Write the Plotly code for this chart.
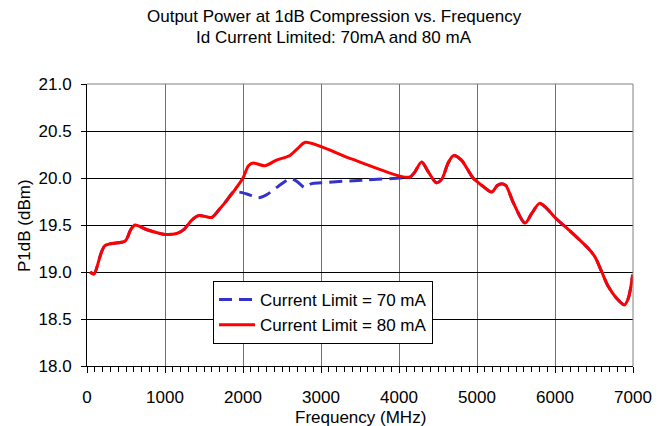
import plotly.graph_objects as go

# Shared low-frequency segment (both current limits)
freq_low = [40, 90, 230, 490, 560, 615, 770, 1000, 1150, 1240, 1340, 1430, 1520, 1600, 1700, 1790]
p1db_low = [19.00, 18.98, 19.28, 19.33, 19.45, 19.50, 19.45, 19.40, 19.41, 19.45, 19.55, 19.60, 19.59, 19.58, 19.67, 19.76]

# Mid segment, 70 mA
freq_mid_70 = [1876, 1950, 2050, 2200, 2300, 2450, 2600, 2680, 2790, 2880, 3000, 3600, 4010, 4140]
p1db_mid_70 = [19.85, 19.85, 19.83, 19.79, 19.82, 19.91, 19.99, 19.97, 19.90, 19.94, 19.95, 19.98, 20.00, 20.01]

# Mid segment, 80 mA
freq_mid_80 = [1900, 2000, 2070, 2130, 2280, 2430, 2600, 2710, 2800, 3400, 4010, 4140]
p1db_mid_80 = [19.88, 20.00, 20.13, 20.16, 20.13, 20.19, 20.24, 20.32, 20.38, 20.20, 20.02, 20.01]

# Shared high-frequency segment
freq_high = [4200, 4290, 4380, 4480, 4550, 4630, 4700, 4800, 4950, 5080, 5190, 5260, 5320, 5370,
             5470, 5615, 5700, 5800, 5890, 6000, 6240, 6450, 6520, 6600, 6680, 6790, 6890, 6940, 6996]
p1db_high = [20.06, 20.17, 20.06, 19.95, 19.99, 20.16, 20.24, 20.19, 20.00, 19.91, 19.85, 19.92, 19.94, 19.92,
             19.73, 19.52, 19.62, 19.73, 19.68, 19.58, 19.40, 19.23, 19.15, 19.00, 18.85, 18.72, 18.65, 18.72, 18.97]

names = ["Current Limit = 70 mA", "Current Limit = 80 mA"]
title_lines = ["Output Power at 1dB Compression vs. Frequency", "Id Current Limited: 70mA and 80 mA"]
x_ticks = [0, 1000, 2000, 3000, 4000, 5000, 6000, 7000]
y_ticks = [18.0, 18.5, 19.0, 19.5, 20.0, 20.5, 21.0]

freq_70 = freq_low + freq_mid_70 + freq_high
p1db_70 = p1db_low + p1db_mid_70 + p1db_high
freq_80 = freq_low + freq_mid_80 + freq_high
p1db_80 = p1db_low + p1db_mid_80 + p1db_high

FONT = "Arial, Liberation Sans, sans-serif"
FS = 17

fig = go.Figure()
fig.add_trace(go.Scatter(x=freq_70, y=p1db_70, name=names[0], mode="lines",
                         line=dict(color="#3333CC", width=3, dash="13px,7px", shape="spline", smoothing=0.8)))
fig.add_trace(go.Scatter(x=freq_80, y=p1db_80, name=names[1], mode="lines",
                         line=dict(color="#FF0000", width=3, shape="spline", smoothing=0.8)))

# page has an 8px body margin; size the figure so the plot lands where the reference has it
fig.update_layout(
    width=661, height=418,
    margin=dict(l=79, r=36, t=76, b=60),
    paper_bgcolor="white", plot_bgcolor="white",
    font=dict(family=FONT, size=FS, color="black"),
    legend=dict(x=0.2308, y=0.3014, xanchor="left", yanchor="top", bgcolor="white",
                bordercolor="black", borderwidth=1, font=dict(size=FS),
                itemwidth=36),
    showlegend=True,
)
fig.add_annotation(text=title_lines[0], xref="paper", yref="paper", x=0.4524, y=1.2376,
                   xanchor="center", yanchor="middle", showarrow=False, font=dict(size=FS))
fig.add_annotation(text=title_lines[1], xref="paper", yref="paper", x=0.4524, y=1.1649,
                   xanchor="center", yanchor="middle", showarrow=False, font=dict(size=FS))
fig.add_annotation(text="P1dB (dBm)", xref="paper", yref="paper", x=-0.1154, y=0.5, textangle=-90,
                   xanchor="center", yanchor="middle", showarrow=False, font=dict(size=FS))
fig.add_annotation(text="Frequency (MHz)", xref="paper", yref="paper", x=0.5, y=-0.181,
                   xanchor="center", yanchor="middle", showarrow=False, font=dict(size=FS))

fig.update_xaxes(range=[0, 7000], tickvals=x_ticks, ticktext=[str(v) for v in x_ticks],
                 showgrid=True, gridcolor="#707070", gridwidth=1,
                 showline=True, linecolor="black", linewidth=1,
                 ticks="outside", ticklen=6, tickcolor="black",
                 minor=dict(dtick=100, ticks="outside", ticklen=5, tickcolor="black", showgrid=False),
                 ticklabelstandoff=10, zeroline=False)
fig.update_yaxes(range=[18, 21], tickvals=y_ticks, ticktext=[f"{v:.1f}" for v in y_ticks],
                 showgrid=True, gridcolor="black", gridwidth=1,
                 showline=True, linecolor="black", linewidth=1,
                 ticks="outside", ticklen=5, tickcolor="black",
                 ticklabelstandoff=6, zeroline=False)
fig.add_shape(type="line", xref="paper", yref="paper", x0=0, x1=1, y0=1, y1=1,
              line=dict(color="#808080", width=1))
fig.add_shape(type="line", xref="paper", yref="paper", x0=1, x1=1, y0=0, y1=1,
              line=dict(color="#808080", width=1))

fig.write_html("out.html")
